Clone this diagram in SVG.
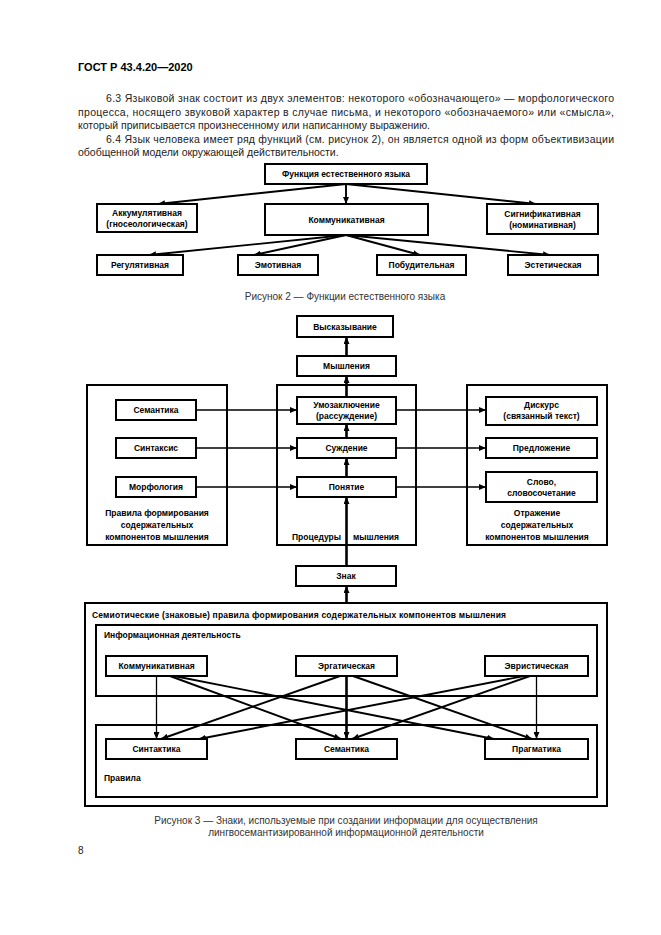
<svg xmlns="http://www.w3.org/2000/svg" width="661" height="935" viewBox="0 0 661 935">
<style>
.box{fill:#fff;stroke:#000;stroke-width:2}
.frame{fill:none;stroke:#000;stroke-width:2}
.t{font-family:"Liberation Sans",Arial,sans-serif;font-size:8.5px;font-weight:bold;fill:#000;text-anchor:middle}
.tl{font-family:"Liberation Sans",Arial,sans-serif;font-size:8.5px;font-weight:bold;fill:#000}
.body{font-family:"Liberation Sans",Arial,sans-serif;font-size:10.5px;fill:#222}
.cap{font-family:"Liberation Sans",Arial,sans-serif;font-size:10px;fill:#333;text-anchor:middle}
.ln{stroke:#000;stroke-width:1.9;fill:none}
.thin{stroke:#000;stroke-width:1.3;fill:none}
.thick{stroke:#000;stroke-width:2.6;fill:none}
</style>
<defs>
<marker id="ah" markerUnits="userSpaceOnUse" markerWidth="7" markerHeight="6" refX="7" refY="3" orient="auto">
<path d="M0,0 L7,3 L0,6 z" fill="#000"/>
</marker>
</defs>
<rect width="661" height="935" fill="#fff"/>

<text x="78" y="71" font-family="Liberation Sans,Arial,sans-serif" font-size="11" font-weight="bold" fill="#000">ГОСТ Р 43.4.20—2020</text>
<text class="body" x="106" y="102" textLength="508" lengthAdjust="spacing">6.3 Языковой знак состоит из двух элементов: некоторого «обозначающего» — морфологического</text>
<text class="body" x="78" y="116" textLength="536" lengthAdjust="spacing">процесса, носящего звуковой характер в случае письма, и некоторого «обозначаемого» или «смысла»,</text>
<text class="body" x="78" y="129">который приписывается произнесенному или написанному выражению.</text>
<text class="body" x="106" y="143" textLength="508" lengthAdjust="spacing">6.4 Язык человека имеет ряд функций (см. рисунок 2), он является одной из форм объективизации</text>
<text class="body" x="78" y="156">обобщенной модели окружающей действительности.</text>

<!-- Figure 2 -->
<g id="fig2-connectors">
<line class="ln" x1="346" y1="184" x2="158" y2="204" marker-end="url(#ah)"/>
<line class="ln" x1="346" y1="184" x2="346" y2="204" marker-end="url(#ah)"/>
<line class="ln" x1="346" y1="184" x2="536" y2="204" marker-end="url(#ah)"/>
<line class="ln" x1="346" y1="235" x2="149" y2="255" marker-end="url(#ah)"/>
<line class="ln" x1="346" y1="235" x2="254" y2="255" marker-end="url(#ah)"/>
<line class="ln" x1="346" y1="235" x2="420" y2="255" marker-end="url(#ah)"/>
<line class="ln" x1="346" y1="235" x2="550" y2="255" marker-end="url(#ah)"/>
</g>
<g id="f2-root"><rect class="box" x="265" y="164" width="162" height="20"/><text class="t" x="346" y="177">Функция естественного языка</text></g>
<g id="f2-akk"><rect class="box" x="97" y="204" width="100" height="28"/><text class="t" x="147" y="216">Аккумулятивная</text><text class="t" x="147" y="227">(гносеологическая)</text></g>
<g id="f2-komm"><rect class="box" x="265" y="204" width="163" height="31"/><text class="t" x="346.5" y="222.5">Коммуникативная</text></g>
<g id="f2-sign"><rect class="box" x="487" y="204" width="111" height="30"/><text class="t" x="542.5" y="216.5">Сигнификативная</text><text class="t" x="542.5" y="227.5">(номинативная)</text></g>
<g id="f2-reg"><rect class="box" x="97" y="255" width="86" height="20"/><text class="t" x="140" y="268">Регулятивная</text></g>
<g id="f2-emo"><rect class="box" x="238" y="255" width="80" height="20"/><text class="t" x="278" y="268">Эмотивная</text></g>
<g id="f2-pob"><rect class="box" x="377" y="255" width="89" height="20"/><text class="t" x="421.5" y="268">Побудительная</text></g>
<g id="f2-est"><rect class="box" x="508" y="255" width="90" height="20"/><text class="t" x="553" y="268">Эстетическая</text></g>
<text class="cap" x="345" y="300">Рисунок 2 — Функции естественного языка</text>

<!-- Figure 3 -->
<g id="f3-left-frame"><rect class="frame" x="87" y="385" width="140" height="160"/>
<text class="t" x="157" y="516">Правила формирования</text><text class="t" x="157" y="528">содержательных</text><text class="t" x="157" y="540">компонентов мышления</text></g>
<g id="f3-mid-frame"><rect class="frame" x="277" y="385" width="139" height="160"/>
<text class="tl" x="292" y="540">Процедуры</text><text class="tl" x="353" y="540">мышления</text></g>
<g id="f3-right-frame"><rect class="frame" x="467" y="385" width="140" height="160"/>
<text class="t" x="537" y="516">Отражение</text><text class="t" x="537" y="528">содержательных</text><text class="t" x="537" y="540">компонентов мышления</text></g>
<g id="f3-outer"><rect class="frame" x="85" y="603" width="522" height="203" stroke-width="2.4"/>
<text class="tl" x="92" y="618" textLength="414" lengthAdjust="spacing">Семиотические (знаковые) правила формирования содержательных компонентов мышления</text></g>
<g id="f3-info"><rect class="frame" x="96" y="625" width="501" height="71"/><text class="tl" x="104" y="638">Информационная деятельность</text></g>
<g id="f3-rules"><rect class="frame" x="96" y="725" width="501" height="72"/><text class="tl" x="104" y="781">Правила</text></g>

<g id="fig3-connectors">
<line class="thick" x1="346.5" y1="356" x2="346.5" y2="337" marker-end="url(#ah)"/>
<line class="thick" x1="346.5" y1="397" x2="346.5" y2="376" marker-end="url(#ah)"/>
<line class="thick" x1="346.5" y1="438" x2="346.5" y2="424" marker-end="url(#ah)"/>
<line class="thick" x1="346.5" y1="477" x2="346.5" y2="458" marker-end="url(#ah)"/>
<line class="thick" x1="346.5" y1="566" x2="346.5" y2="497" marker-end="url(#ah)"/>
<line class="thick" x1="346.5" y1="603" x2="346.5" y2="586" marker-end="url(#ah)"/>
<line class="thin" x1="196" y1="410" x2="297" y2="410" marker-end="url(#ah)"/>
<line class="thin" x1="196" y1="448" x2="297" y2="448" marker-end="url(#ah)"/>
<line class="thin" x1="196" y1="487" x2="297" y2="487" marker-end="url(#ah)"/>
<line class="thin" x1="396" y1="410" x2="486" y2="410" marker-end="url(#ah)"/>
<line class="thin" x1="396" y1="448" x2="486" y2="448" marker-end="url(#ah)"/>
<line class="thin" x1="396" y1="487" x2="486" y2="487" marker-end="url(#ah)"/>
<line class="thin" x1="156.5" y1="676" x2="156.5" y2="739" marker-end="url(#ah)"/>
<line class="ln" x1="170" y1="676" x2="341" y2="739" marker-end="url(#ah)"/>
<line class="ln" x1="174" y1="676" x2="494" y2="739" marker-end="url(#ah)"/>
<line class="ln" x1="340" y1="676" x2="161" y2="739" marker-end="url(#ah)"/>
<line class="thick" x1="346.5" y1="676" x2="346.5" y2="739" marker-end="url(#ah)"/>
<line class="ln" x1="353" y1="676" x2="532" y2="739" marker-end="url(#ah)"/>
<line class="ln" x1="524" y1="676" x2="199" y2="739" marker-end="url(#ah)"/>
<line class="ln" x1="530" y1="676" x2="352" y2="739" marker-end="url(#ah)"/>
<line class="thin" x1="536.5" y1="676" x2="536.5" y2="739" marker-end="url(#ah)"/>
</g>

<g id="f3-vysk"><rect class="box" x="297" y="316" width="96" height="21"/><text class="t" x="345" y="329.5">Высказывание</text></g>
<g id="f3-mysh"><rect class="box" x="297" y="356" width="99" height="20"/><text class="t" x="346.5" y="369">Мышления</text></g>
<g id="f3-sem1"><rect class="box" x="116" y="400" width="80" height="20"/><text class="t" x="156" y="413">Семантика</text></g>
<g id="f3-sint1"><rect class="box" x="116" y="438" width="80" height="20"/><text class="t" x="156" y="451">Синтаксис</text></g>
<g id="f3-morf"><rect class="box" x="116" y="477" width="80" height="20"/><text class="t" x="156" y="490">Морфология</text></g>
<g id="f3-umoz"><rect class="box" x="297" y="397" width="99" height="27"/><text class="t" x="346.5" y="408">Умозаключение</text><text class="t" x="346.5" y="419">(рассуждение)</text></g>
<g id="f3-sujd"><rect class="box" x="297" y="438" width="99" height="20"/><text class="t" x="346.5" y="451">Суждение</text></g>
<g id="f3-pon"><rect class="box" x="297" y="477" width="99" height="20"/><text class="t" x="346.5" y="490">Понятие</text></g>
<g id="f3-disk"><rect class="box" x="486" y="397" width="111" height="28"/><text class="t" x="541.5" y="408">Дискурс</text><text class="t" x="541.5" y="419">(связанный текст)</text></g>
<g id="f3-pred"><rect class="box" x="486" y="438" width="111" height="20"/><text class="t" x="541.5" y="451">Предложение</text></g>
<g id="f3-slovo"><rect class="box" x="486" y="472" width="111" height="30"/><text class="t" x="541.5" y="485">Слово,</text><text class="t" x="541.5" y="496">словосочетание</text></g>
<g id="f3-znak"><rect class="box" x="296" y="566" width="100" height="20"/><text class="t" x="346" y="579">Знак</text></g>
<g id="f3-komm"><rect class="box" x="106" y="656" width="101" height="20"/><text class="t" x="156.5" y="669">Коммуникативная</text></g>
<g id="f3-erg"><rect class="box" x="296" y="656" width="101" height="20"/><text class="t" x="346.5" y="669">Эргатическая</text></g>
<g id="f3-evr"><rect class="box" x="485" y="656" width="103" height="20"/><text class="t" x="536.5" y="669">Эвристическая</text></g>
<g id="f3-sint2"><rect class="box" x="106" y="739" width="101" height="20"/><text class="t" x="156.5" y="752">Синтактика</text></g>
<g id="f3-sem2"><rect class="box" x="296" y="739" width="101" height="20"/><text class="t" x="346.5" y="752">Семантика</text></g>
<g id="f3-prag"><rect class="box" x="485" y="739" width="103" height="20"/><text class="t" x="536.5" y="752">Прагматика</text></g>

<text class="cap" x="346" y="824">Рисунок 3 — Знаки, используемые при создании информации для осуществления</text>
<text class="cap" x="346" y="836">лингвосемантизированной информационной деятельности</text>
<text x="78" y="854" font-family="Liberation Sans,Arial,sans-serif" font-size="10" fill="#222">8</text>
</svg>
